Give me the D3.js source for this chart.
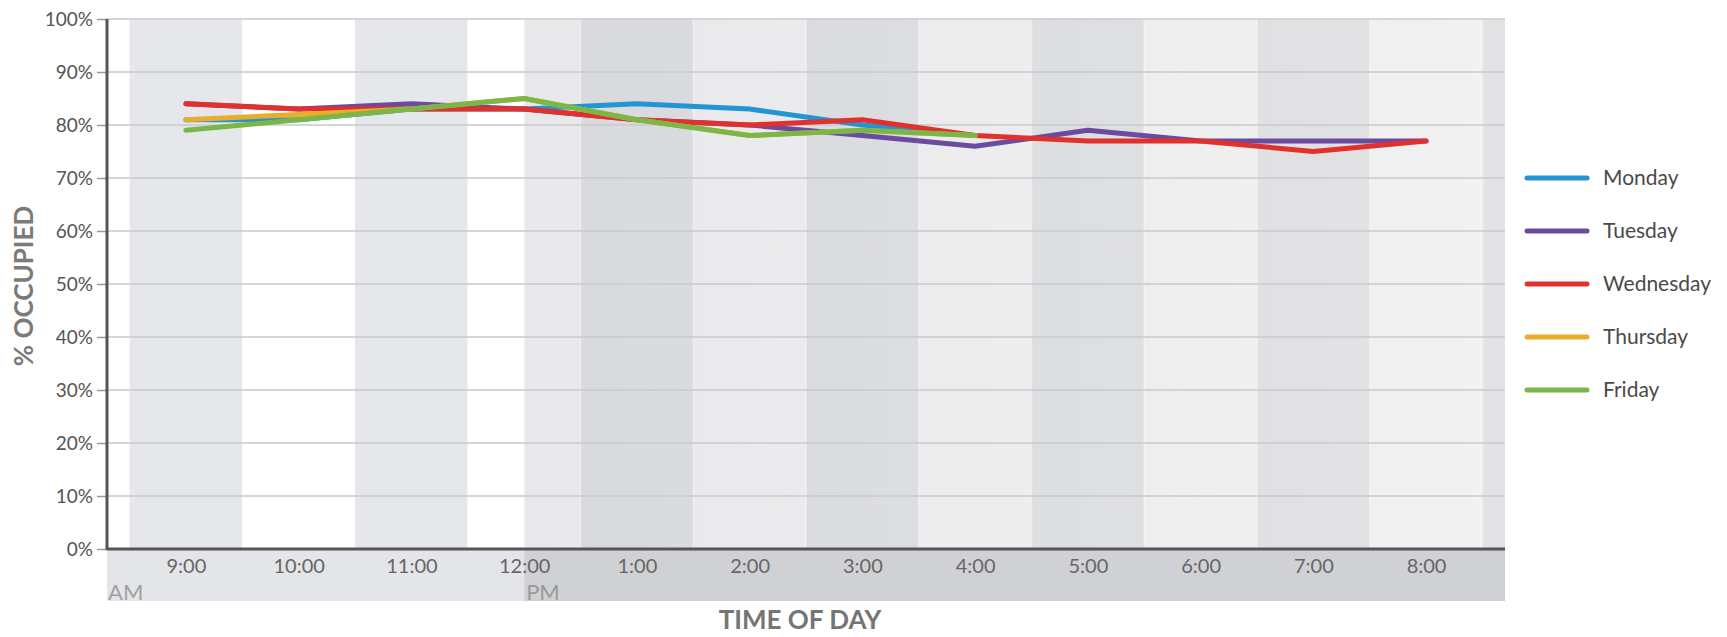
<!DOCTYPE html>
<html>
<head>
<meta charset="utf-8">
<script src="https://cdn.jsdelivr.net/npm/d3@7"></script>
<style>
  html, body { margin: 0; padding: 0; background: #ffffff; }
  svg { display: block; font-family: "Lato", "Open Sans", sans-serif; }
</style>
</head>
<body>
<svg id="chart" width="1727" height="637"></svg>
<script>
// ---- data ----
const hours = ["9:00","10:00","11:00","12:00","1:00","2:00","3:00","4:00","5:00","6:00","7:00","8:00"];
const yTicks = [0,10,20,30,40,50,60,70,80,90,100];
const seriesNames = ["Monday","Tuesday","Wednesday","Thursday","Friday"];
const monday    = [81,81,83,83,84,83,80,78];
const tuesday   = [84,83,84,83,81,80,78,76,79,77,77,77];
const wednesday = [84,83,83,83,81,80,81,78,77,77,75,77];
const thursday  = [81,82,83,85,81,78,79,78];
const friday    = [79,81,83,85,81,78,79,78];
const pmStart = "12:00";

// ---- styles ----
const colors = ["#2196d3","#6b4b9e","#e0312d","#e8ad2a","#7ab648"];
const seriesValues = [monday, tuesday, wednesday, thursday, friday];

const svg = d3.select("#chart");
const pLeft = 107, pRight = 1505, pTop = 19, pBottom = 549;

const x = d3.scalePoint().domain(hours).range([pLeft, pRight]).padding(0.7);
const y = d3.scaleLinear().domain([0, 100]).range([pBottom, pTop]);
const step = x.step();

const defs = svg.append("defs");
const clip = defs.append("clipPath").attr("id", "plotclip");
clip.append("rect").attr("x", pLeft).attr("y", pTop).attr("width", pRight - pLeft).attr("height", pBottom - pTop);

const grad = defs.append("linearGradient").attr("id", "pmgrad")
  .attr("gradientUnits", "userSpaceOnUse")
  .attr("x1", x(pmStart)).attr("x2", pRight).attr("y1", 0).attr("y2", 0);
grad.append("stop").attr("offset", "0%").attr("stop-color", "#c2c3c8");
grad.append("stop").attr("offset", "100%").attr("stop-color", "#dcdcdd");

// ---- background bands ----
const bg = svg.append("g").attr("clip-path", "url(#plotclip)");
bg.append("rect").attr("x", pLeft).attr("y", pTop).attr("width", pRight - pLeft).attr("height", pBottom - pTop).attr("fill", "#ffffff");
const bandIdx = d3.range(-1, hours.length + 1);
bg.selectAll("rect.band").data(bandIdx).join("rect")
  .attr("class", "band")
  .attr("x", i => x(hours[0]) + i * step - step / 2)
  .attr("y", pTop)
  .attr("width", step)
  .attr("height", pBottom - pTop)
  .attr("fill", i => ((i % 2) + 2) % 2 === 0 ? "#e6e7ea" : "#ffffff");
// PM overlay
bg.append("rect")
  .attr("x", x(pmStart)).attr("y", pTop)
  .attr("width", pRight - x(pmStart)).attr("height", pBottom - pTop)
  .attr("fill", "url(#pmgrad)").attr("fill-opacity", 0.38);
// faint highlight lines at PM band boundaries
const pmBounds = d3.range(hours.indexOf(pmStart), hours.length + 1);
bg.selectAll("rect.edge").data(pmBounds).join("rect")
  .attr("class", "edge")
  .attr("x", i => x(hours[0]) + i * step - step / 2 - 1)
  .attr("y", pTop).attr("width", 2).attr("height", pBottom - pTop)
  .attr("fill", "#ffffff").attr("fill-opacity", 0.3);
bg.append("rect").attr("x", x(pmStart) - 1).attr("y", pTop).attr("width", 2).attr("height", pBottom - pTop)
  .attr("fill", "#ffffff").attr("fill-opacity", 0.3);

// ---- x axis strip ----
svg.append("rect").attr("x", pLeft).attr("y", pBottom).attr("width", x(pmStart) - pLeft).attr("height", 52).attr("fill", "#e4e5e8");
svg.append("rect").attr("x", x(pmStart)).attr("y", pBottom).attr("width", pRight - x(pmStart)).attr("height", 52).attr("fill", "#d0d1d4");

// ---- gridlines ----
svg.append("g").selectAll("line").data(yTicks).join("line")
  .attr("x1", pLeft).attr("x2", pRight)
  .attr("y1", d => y(d)).attr("y2", d => y(d))
  .attr("stroke", "#c9cacd").attr("stroke-width", 1.5);

// ---- y axis ----
const yAxis = svg.append("g").attr("transform", `translate(${pLeft},0)`)
  .call(d3.axisLeft(y).tickValues(yTicks).tickFormat(d => d + "%").tickSize(10).tickPadding(4));
yAxis.select(".domain").remove();
yAxis.selectAll(".tick line").attr("stroke", "#9a9a9a").attr("stroke-width", 1.5);
yAxis.selectAll(".tick text").attr("font-size", 19).attr("fill", "#555555").attr("font-family", "Lato, sans-serif");

// ---- x axis ----
const xAxis = svg.append("g").attr("transform", `translate(0,${pBottom})`)
  .call(d3.axisBottom(x).tickSize(0).tickPadding(10));
xAxis.select(".domain").remove();
xAxis.selectAll(".tick text").attr("font-size", 20).attr("fill", "#666666").attr("font-family", "Lato, sans-serif");

svg.append("text").attr("x", pLeft + 1).attr("y", 600).text("AM")
  .attr("font-size", 22).attr("fill", "#a0a0a0");
svg.append("text").attr("x", x(pmStart) + 2).attr("y", 600).text("PM")
  .attr("font-size", 22).attr("fill", "#9a9a9a");

// axis lines
svg.append("line").attr("x1", pLeft).attr("x2", pLeft).attr("y1", pTop).attr("y2", pBottom + 1)
  .attr("stroke", "#555555").attr("stroke-width", 3);
svg.append("line").attr("x1", pLeft).attr("x2", pRight).attr("y1", pBottom).attr("y2", pBottom)
  .attr("stroke", "#555555").attr("stroke-width", 3);

// ---- lines ----
const line = d3.line().x((d, i) => x(hours[i])).y(d => y(d));
svg.append("g").selectAll("path").data(seriesValues).join("path")
  .attr("d", d => line(d))
  .attr("fill", "none")
  .attr("stroke", (d, i) => colors[i])
  .attr("stroke-width", 5)
  .attr("stroke-linejoin", "round")
  .attr("stroke-linecap", "round");

// ---- legend ----
const legend = svg.append("g").selectAll("g").data(seriesNames).join("g")
  .attr("transform", (d, i) => `translate(1527,${178 + i * 53})`);
legend.append("line").attr("x1", 0).attr("x2", 60).attr("y1", 0).attr("y2", 0)
  .attr("stroke", (d, i) => colors[i]).attr("stroke-width", 5).attr("stroke-linecap", "round");
legend.append("text").attr("x", 76).attr("y", 0).attr("dy", "0.35em").text(d => d)
  .attr("font-size", 21).attr("fill", "#4a4a4a");

// ---- titles ----
svg.append("text").attr("transform", "translate(33,286) rotate(-90)")
  .attr("text-anchor", "middle").text("% OCCUPIED")
  .attr("font-size", 26).attr("font-weight", "bold").attr("fill", "#7a7a7a");
svg.append("text").attr("x", 800).attr("y", 629).attr("text-anchor", "middle").text("TIME OF DAY")
  .attr("font-size", 26).attr("font-weight", "bold").attr("fill", "#757575");
</script>
</body>
</html>
